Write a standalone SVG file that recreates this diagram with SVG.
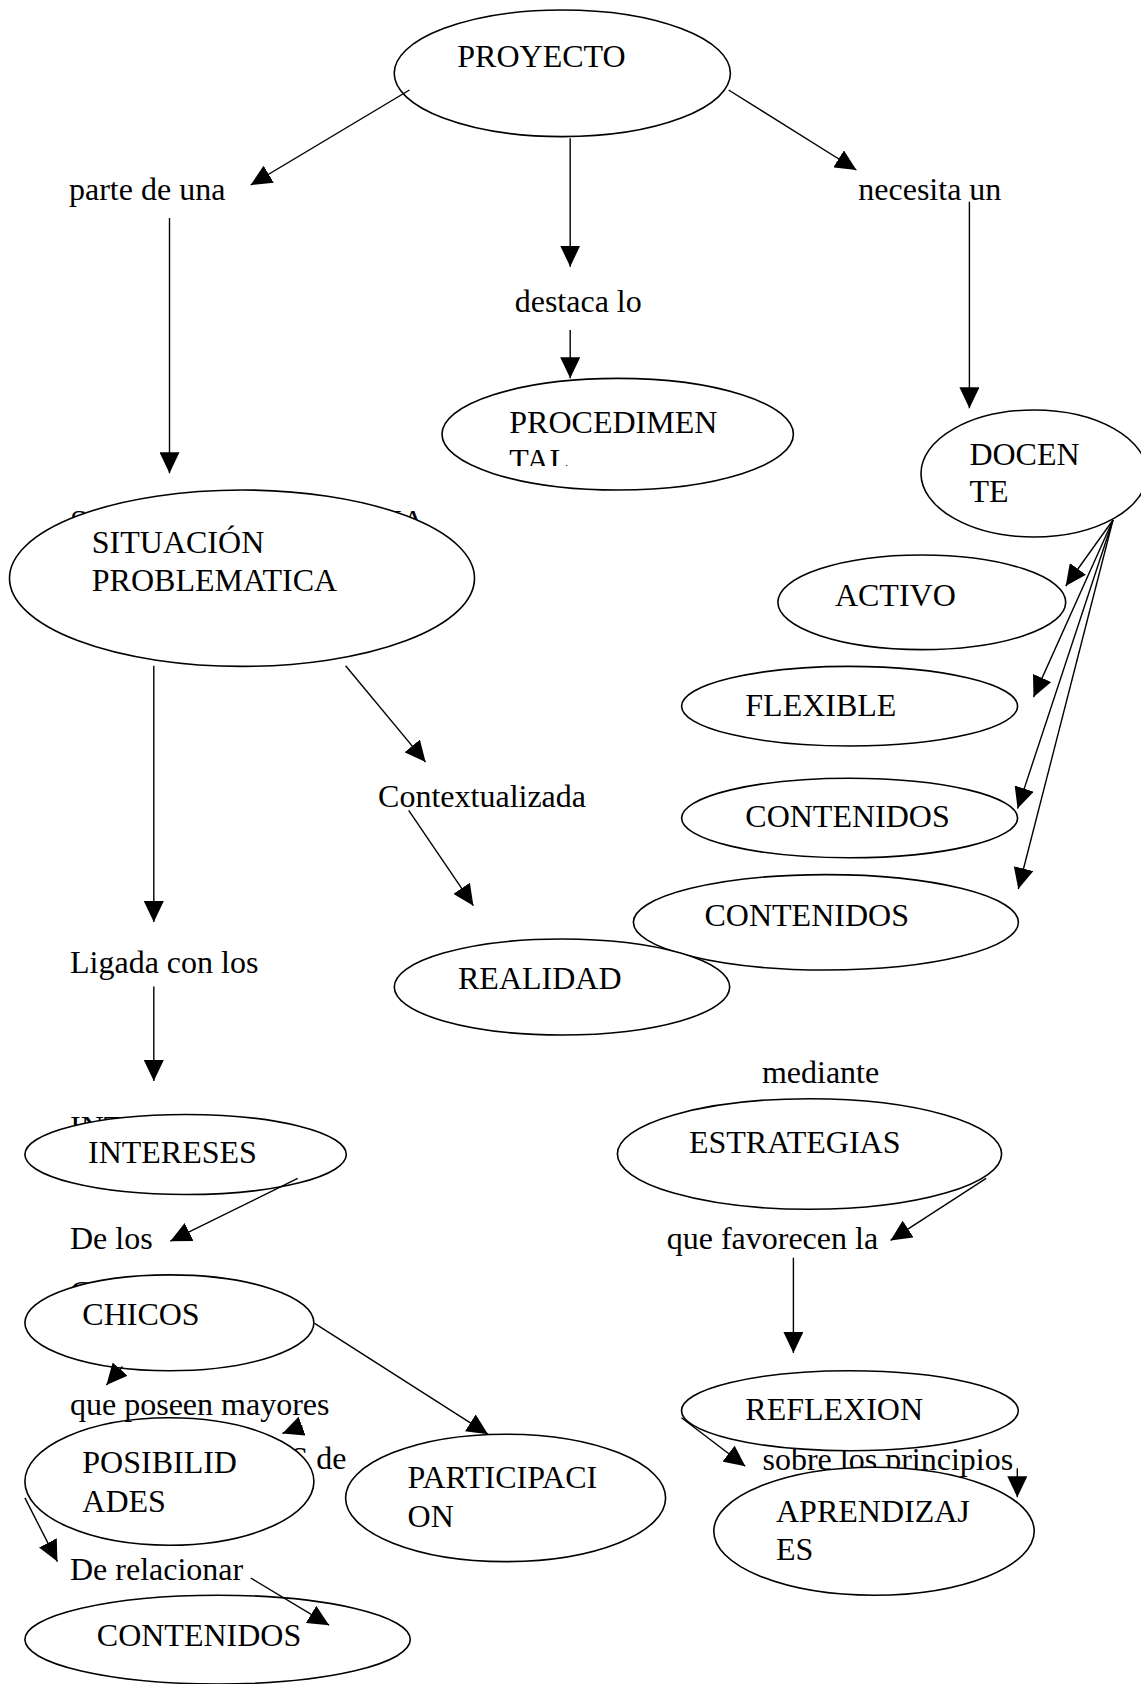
<svg xmlns="http://www.w3.org/2000/svg" width="1141" height="1684" viewBox="0 0 1141 1684">
<style>
text{font-family:"Liberation Serif","Times New Roman",serif;font-size:32px;fill:#000}
.n{fill:#fff;stroke:#000;stroke-width:1.6}
.c line{stroke:#000;stroke-width:1.4;marker-end:url(#ah)}
</style>
<defs>
<marker id="ah" viewBox="0 0 21 20" refX="21" refY="10" markerWidth="21" markerHeight="20" markerUnits="userSpaceOnUse" orient="auto"><path d="M0,0 L21,10 L0,20 z" fill="#000"/></marker>
<clipPath id="clipProc"><rect x="440" y="378" width="360" height="88"/></clipPath>
</defs>
<rect width="1141" height="1684" fill="#fff"/>
<g id="hidden-text">
<text x="70" y="531.5">SITUACIÓN PROBLEMA</text>
<text x="70" y="1137.5">INTERESES</text>
<text x="70" y="1303">CHICOS</text>
<text x="70" y="1469">POSIBILIDADES de</text>
<text x="762.5" y="1470">sobre los principios</text>
</g>
<g id="n-proyecto"><ellipse class="n" cx="562.3" cy="73.3" rx="168.1" ry="63.3"/><text x="457.3" y="66.7">PROYECTO</text></g>
<g id="n-procedimental"><ellipse class="n" cx="617.7" cy="434.2" rx="175.7" ry="55.8"/><g clip-path="url(#clipProc)"><text x="509.3" y="433.3">PROCEDIMEN</text><text x="509.3" y="470.5">TAL</text></g></g>
<g id="n-docente"><ellipse class="n" cx="1034" cy="473.5" rx="113" ry="63.5"/><text x="969.4" y="465">DOCEN</text><text x="969.4" y="502">TE</text></g>
<g id="n-situacion"><ellipse class="n" cx="242" cy="578.2" rx="232.5" ry="88.2"/><text x="91.8" y="553.2">SITUACIÓN</text><text x="91.8" y="590.7">PROBLEMATICA</text></g>
<g id="n-activo"><ellipse class="n" cx="921.8" cy="602.3" rx="143.9" ry="47.3"/><text x="834.9" y="605.7">ACTIVO</text></g>
<g id="n-flexible"><ellipse class="n" cx="849.6" cy="706.2" rx="168" ry="39.8"/><text x="745.3" y="715.7">FLEXIBLE</text></g>
<g id="n-contenidos1"><ellipse class="n" cx="849.6" cy="818" rx="168" ry="39.8"/><text x="745.3" y="827.1">CONTENIDOS</text></g>
<g id="n-contenidos2"><ellipse class="n" cx="825.9" cy="922.3" rx="192.5" ry="47.7"/><text x="704.5" y="925.7">CONTENIDOS</text></g>
<g id="n-realidad"><ellipse class="n" cx="562" cy="987" rx="167.7" ry="48"/><text x="458" y="989">REALIDAD</text></g>
<g id="n-intereses"><ellipse class="n" cx="185.6" cy="1154.5" rx="160.7" ry="40"/><text x="88" y="1163.2">INTERESES</text></g>
<g id="n-estrategias"><ellipse class="n" cx="809.5" cy="1154" rx="192.1" ry="55.3"/><text x="688.9" y="1152.9">ESTRATEGIAS</text></g>
<g id="n-chicos"><ellipse class="n" cx="169.4" cy="1322.8" rx="144.5" ry="47.9"/><text x="82.3" y="1325.4">CHICOS</text></g>
<g id="n-reflexion"><ellipse class="n" cx="849.9" cy="1410.7" rx="168.4" ry="40"/><text x="745.3" y="1419.9">REFLEXION</text></g>
<g id="n-posibilidades"><ellipse class="n" cx="169.4" cy="1481.5" rx="144.5" ry="63.7"/><text x="82.3" y="1473.3">POSIBILID</text><text x="82.3" y="1511.5">ADES</text></g>
<g id="n-participacion"><ellipse class="n" cx="505.6" cy="1497.9" rx="160" ry="63.7"/><text x="407.6" y="1487.6">PARTICIPACI</text><text x="407.6" y="1526.7">ON</text></g>
<g id="n-aprendizajes"><ellipse class="n" cx="874" cy="1531.2" rx="160.2" ry="64"/><text x="776" y="1521.7">APRENDIZAJ</text><text x="776" y="1559.5">ES</text></g>
<g id="n-contenidos3"><ellipse class="n" cx="217.6" cy="1639.6" rx="192.7" ry="44.4"/><text x="96.8" y="1645.7">CONTENIDOS</text></g>
<g id="labels">
<text x="69" y="200">parte de una</text>
<text x="514.7" y="311.7">destaca lo</text>
<text x="858.3" y="200">necesita un</text>
<text x="378.1" y="806.8">Contextualizada</text>
<text x="70" y="972.9">Ligada con los</text>
<text x="70" y="1249.4">De los</text>
<text x="70" y="1414.5">que poseen mayores</text>
<text x="70" y="1580">De relacionar</text>
<text x="761.9" y="1083.1">mediante</text>
<text x="666.7" y="1249.4">que favorecen la</text>
</g>
<g id="connectors" class="c">
<line x1="409.5" y1="90" x2="250.7" y2="185"/>
<line x1="570.2" y1="138.3" x2="570.2" y2="266.7"/>
<line x1="728.6" y1="90" x2="856.4" y2="170"/>
<line x1="169.5" y1="218" x2="169.5" y2="473.3"/>
<line x1="570.2" y1="330" x2="570.2" y2="378.3"/>
<line x1="969.4" y1="201.7" x2="969.4" y2="408.3"/>
<line x1="1113" y1="520" x2="1065.7" y2="586"/>
<line x1="1113" y1="520" x2="1033.5" y2="697.1"/>
<line x1="1113" y1="520" x2="1017.6" y2="808.6"/>
<line x1="1113" y1="520" x2="1018.3" y2="889"/>
<line x1="153.8" y1="665.7" x2="153.8" y2="922.1"/>
<line x1="345.6" y1="665.7" x2="425.6" y2="762.1"/>
<line x1="408.7" y1="810.4" x2="473.4" y2="905.7"/>
<line x1="153.8" y1="986.4" x2="153.8" y2="1081"/>
<line x1="297.7" y1="1178.4" x2="170.3" y2="1241.2"/>
<line x1="122.5" y1="1366.5" x2="106.4" y2="1385"/>
<line x1="314.6" y1="1323.4" x2="488" y2="1434.2"/>
<line x1="302.3" y1="1426" x2="282.4" y2="1433.4"/>
<line x1="24.9" y1="1497.9" x2="57.4" y2="1561.6"/>
<line x1="250.7" y1="1578" x2="329.1" y2="1625.2"/>
<line x1="986.1" y1="1178.4" x2="890.5" y2="1240.4"/>
<line x1="793.4" y1="1257.7" x2="793.4" y2="1352.9"/>
<line x1="681.5" y1="1417.8" x2="745.3" y2="1466.3"/>
<line x1="1017.3" y1="1468.3" x2="1017.3" y2="1497.3"/>
</g>
</svg>
